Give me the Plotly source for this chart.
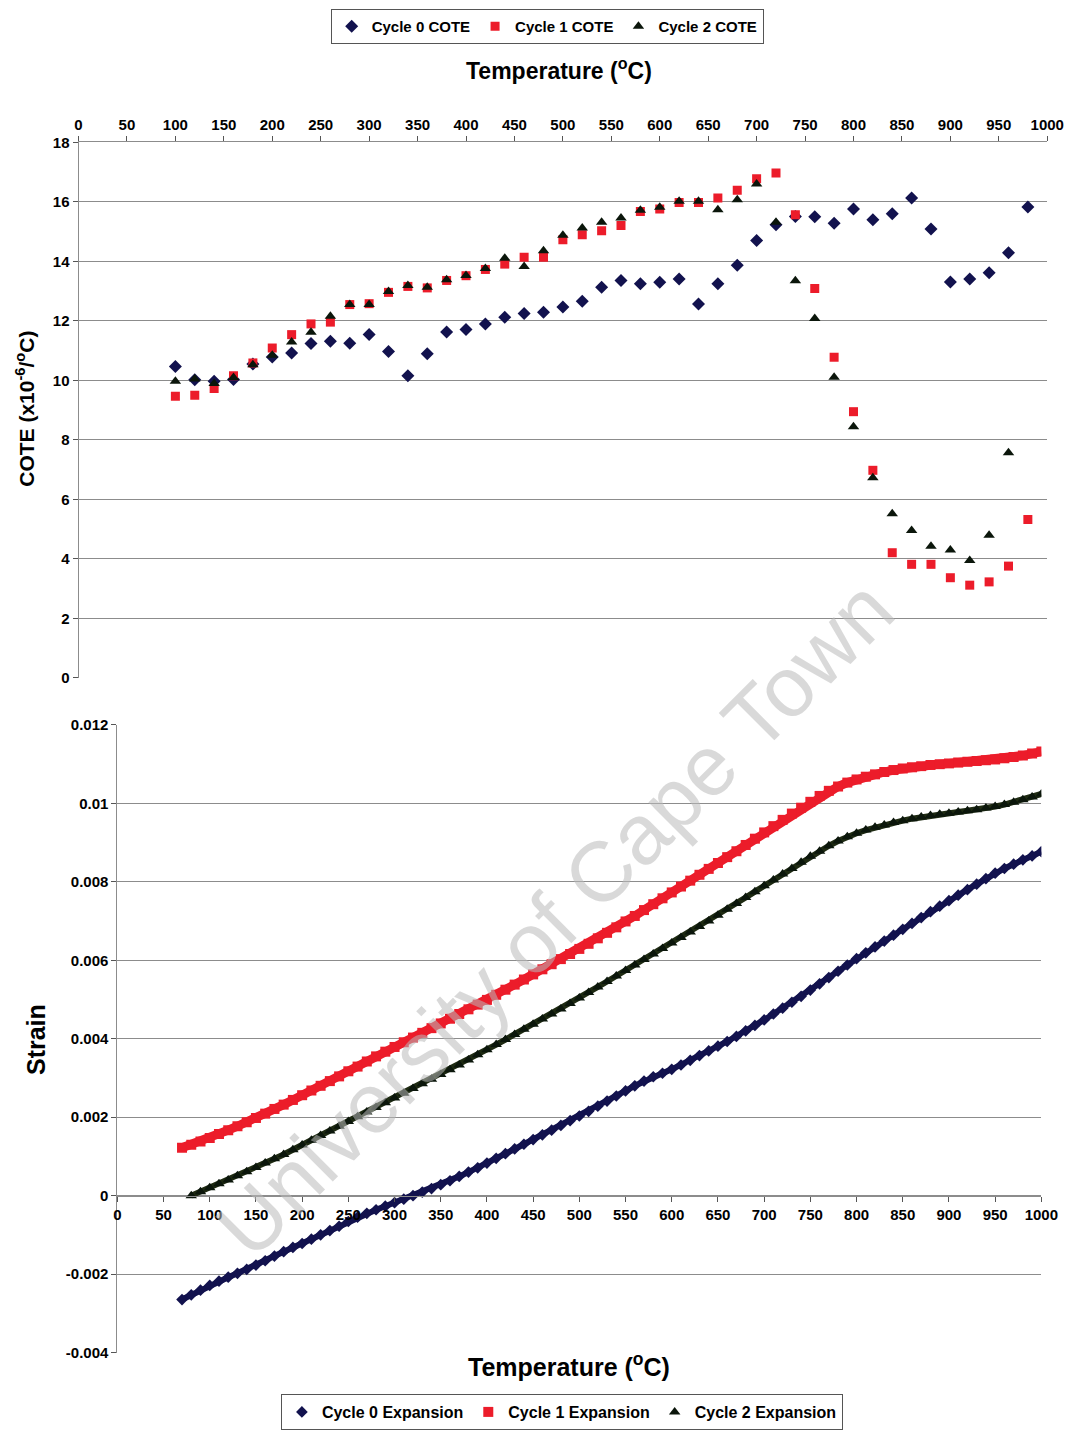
import plotly.graph_objects as go

# ---------------- COTE data (top panel) ----------------
cote_temp_c0 = [100, 120, 140, 160, 180, 200, 220, 240, 260, 280, 300, 320, 340, 360, 380,
                400, 420, 440, 460, 480, 500, 520, 540, 560, 580, 600, 620, 640, 660, 680,
                700, 720, 740, 760, 780, 800, 820, 840, 860, 880, 900, 920, 940, 960, 980]
cote_c0 = [10.47, 10.02, 9.97, 10.03, 10.55, 10.79, 10.92, 11.24, 11.32, 11.25, 11.54, 10.97,
           10.16, 10.90, 11.63, 11.71, 11.90, 12.12, 12.25, 12.29, 12.47, 12.66, 13.13, 13.36,
           13.25, 13.30, 13.41, 12.57, 13.25, 13.87, 14.70, 15.23, 15.51, 15.50, 15.28, 15.76,
           15.40, 15.60, 16.13, 15.09, 13.31, 13.41, 13.62, 14.29, 15.83]

cote_temp_c1 = [100, 120, 140, 160, 180, 200, 220, 240, 260, 280, 300, 320, 340, 360, 380,
                400, 420, 440, 460, 480, 500, 520, 540, 560, 580, 600, 620, 640, 660, 680,
                700, 720, 740, 760, 780, 800, 820, 840, 860, 880, 900, 920, 940, 960, 980]
cote_c1 = [9.47, 9.50, 9.73, 10.16, 10.59, 11.09, 11.54, 11.90, 11.96, 12.55, 12.58, 12.96,
           13.16, 13.11, 13.36, 13.52, 13.73, 13.91, 14.14, 14.14, 14.73, 14.90, 15.03, 15.21,
           15.68, 15.76, 15.98, 15.98, 16.13, 16.39, 16.78, 16.97, 15.57, 13.09, 10.78, 8.95,
           6.98, 4.21, 3.82, 3.82, 3.37, 3.12, 3.23, 3.76, 5.33]

cote_temp_c2 = [100, 120, 140, 160, 180, 200, 220, 240, 260, 280, 300, 320, 340, 360, 380,
                400, 420, 440, 460, 480, 500, 520, 540, 560, 580, 600, 620, 640, 660, 680,
                700, 720, 740, 760, 780, 800, 820, 840, 860, 880, 900, 920, 940, 960]
cote_c2 = [9.97, 10.05, 9.90, 10.10, 10.53, 10.85, 11.29, 11.62, 12.16, 12.55, 12.55, 12.99,
           13.19, 13.13, 13.38, 13.53, 13.76, 14.11, 13.83, 14.36, 14.88, 15.12, 15.32, 15.46,
           15.72, 15.82, 16.02, 16.02, 15.74, 16.07, 16.60, 15.32, 13.35, 12.08, 10.11, 8.44,
           6.73, 5.52, 4.96, 4.43, 4.30, 3.95, 4.80, 7.57]

# ---------------- Strain data (bottom panel) ----------------
strain_temp_c0 = [70, 80, 90, 100, 110, 120, 130, 140, 150, 160, 170, 180, 190, 200, 210, 220,
                  230, 240, 250, 260, 270, 280, 290, 300, 310, 320, 330, 340, 350, 360, 370,
                  380, 390, 400, 410, 420, 430, 440, 450, 460, 470, 480, 490, 500, 510, 520,
                  530, 540, 550, 560, 570, 580, 590, 600, 610, 620, 630, 640, 650, 660, 670,
                  680, 690, 700, 710, 720, 730, 740, 750, 760, 770, 780, 790, 800, 810, 820,
                  830, 840, 850, 860, 870, 880, 890, 900, 910, 920, 930, 940, 950, 960, 970,
                  980, 990, 1000]
strain_c0 = [-0.00265, -0.00253, -0.00241, -0.00229, -0.00218, -0.00208, -0.00198, -0.00188,
             -0.00177, -0.00166, -0.00154, -0.00143, -0.00132, -0.00122, -0.00111, -0.00100,
             -0.00089, -0.00078, -0.00066, -0.00055, -0.00045, -0.00036, -0.00027, -0.00018,
             -0.00009, 0.00000, 0.00009, 0.00018, 0.00028, 0.00038, 0.00049, 0.00060, 0.00071,
             0.00083, 0.00095, 0.00107, 0.00119, 0.00131, 0.00143, 0.00155, 0.00167, 0.00179,
             0.00191, 0.00203, 0.00215, 0.00228, 0.00241, 0.00254, 0.00267, 0.00280, 0.00292,
             0.00303, 0.00312, 0.00322, 0.00333, 0.00345, 0.00357, 0.00369, 0.00381, 0.00393,
             0.00406, 0.00420, 0.00434, 0.00448, 0.00463, 0.00478, 0.00493, 0.00508, 0.00524,
             0.00540, 0.00556, 0.00572, 0.00588, 0.00604, 0.00619, 0.00634, 0.00649, 0.00664,
             0.00679, 0.00694, 0.00709, 0.00724, 0.00738, 0.00752, 0.00766, 0.00780, 0.00794,
             0.00808, 0.00822, 0.00834, 0.00845, 0.00856, 0.00866, 0.00877]

strain_temp_c1 = [70, 80, 90, 100, 110, 120, 130, 140, 150, 160, 170, 180, 190, 200, 210, 220,
                  230, 240, 250, 260, 270, 280, 290, 300, 310, 320, 330, 340, 350, 360, 370,
                  380, 390, 400, 410, 420, 430, 440, 450, 460, 470, 480, 490, 500, 510, 520,
                  530, 540, 550, 560, 570, 580, 590, 600, 610, 620, 630, 640, 650, 660, 670,
                  680, 690, 700, 710, 720, 730, 740, 750, 760, 770, 780, 790, 800, 810, 820,
                  830, 840, 850, 860, 870, 880, 890, 900, 910, 920, 930, 940, 950, 960, 970,
                  980, 990, 1000]
strain_c1 = [0.00122, 0.00130, 0.00138, 0.00147, 0.00157, 0.00167, 0.00177, 0.00187, 0.00198,
             0.00209, 0.00221, 0.00232, 0.00244, 0.00256, 0.00268, 0.00280, 0.00292, 0.00304,
             0.00317, 0.00329, 0.00342, 0.00355, 0.00367, 0.00379, 0.00391, 0.00403, 0.00415,
             0.00427, 0.00439, 0.00451, 0.00463, 0.00475, 0.00487, 0.00499, 0.00512, 0.00525,
             0.00538, 0.00551, 0.00564, 0.00577, 0.00590, 0.00603, 0.00616, 0.00629, 0.00642,
             0.00656, 0.00670, 0.00684, 0.00699, 0.00713, 0.00728, 0.00743, 0.00758, 0.00773,
             0.00788, 0.00803, 0.00818, 0.00833, 0.00848, 0.00863, 0.00878, 0.00894, 0.00910,
             0.00926, 0.00942, 0.00958, 0.00974, 0.00989, 0.01004, 0.01019, 0.01032, 0.01043,
             0.01053, 0.01061, 0.01068, 0.01074, 0.01080, 0.01085, 0.01089, 0.01092, 0.01095,
             0.01098, 0.01100, 0.01102, 0.01104, 0.01106, 0.01108, 0.01110, 0.01112, 0.01115,
             0.01118, 0.01122, 0.01127, 0.01132]

strain_temp_c2 = [80, 90, 100, 110, 120, 130, 140, 150, 160, 170, 180, 190, 200, 210, 220,
                  230, 240, 250, 260, 270, 280, 290, 300, 310, 320, 330, 340, 350, 360, 370,
                  380, 390, 400, 410, 420, 430, 440, 450, 460, 470, 480, 490, 500, 510, 520,
                  530, 540, 550, 560, 570, 580, 590, 600, 610, 620, 630, 640, 650, 660, 670,
                  680, 690, 700, 710, 720, 730, 740, 750, 760, 770, 780, 790, 800, 810, 820,
                  830, 840, 850, 860, 870, 880, 890, 900, 910, 920, 930, 940, 950, 960, 970,
                  980, 990, 1000]
strain_c2 = [0.00000, 0.00010, 0.00020, 0.00030, 0.00040, 0.00051, 0.00061, 0.00072, 0.00083,
             0.00094, 0.00105, 0.00117, 0.00129, 0.00141, 0.00153, 0.00165, 0.00177, 0.00189,
             0.00201, 0.00213, 0.00225, 0.00237, 0.00249, 0.00261, 0.00273, 0.00285, 0.00297,
             0.00309, 0.00321, 0.00333, 0.00346, 0.00359, 0.00372, 0.00385, 0.00398, 0.00411,
             0.00424, 0.00437, 0.00450, 0.00463, 0.00476, 0.00490, 0.00504, 0.00518, 0.00532,
             0.00546, 0.00560, 0.00574, 0.00588, 0.00602, 0.00616, 0.00630, 0.00644, 0.00658,
             0.00672, 0.00686, 0.00700, 0.00715, 0.00730, 0.00745, 0.00760, 0.00775, 0.00790,
             0.00805, 0.00820, 0.00834, 0.00850, 0.00865, 0.00878, 0.00892, 0.00904, 0.00915,
             0.00924, 0.00932, 0.00939, 0.00945, 0.00951, 0.00956, 0.00961, 0.00965, 0.00969,
             0.00972, 0.00975, 0.00978, 0.00981, 0.00984, 0.00988, 0.00992, 0.00997, 0.01003,
             0.01009, 0.01016, 0.01024]

# ---------------- Axis ticks ----------------
temp_ticks = list(range(0, 1001, 50))
cote_ticks = list(range(0, 19, 2))
strain_tickvals = [0.012, 0.01, 0.008, 0.006, 0.004, 0.002, 0, -0.002, -0.004]
strain_ticktext = ["0.012", "0.01", "0.008", "0.006", "0.004", "0.002", "0", "-0.002", "-0.004"]

# ---------------- Styling ----------------
W, H = 1076, 1438
FONT = "Liberation Sans Narrow, Arial Narrow, Liberation Sans, Arial, sans-serif"
NAVY = "#12124e"
RED = "#ec1c2a"
BLACK = "#0b160b"
BAND2 = "#1e2a12"
GRID = "#8c8c8c"


def fx(px):
    """pixel column -> paper fraction"""
    return px / W


def fy(px):
    """pixel row (from top) -> paper fraction"""
    return 1 - px / H


# panel rectangles in pixels
top_x = [fx(76), fx(1064)]
top_y = [fy(677), fy(135)]
bot_x = [fx(115.6), fx(1058)]
bot_y = [fy(1359.6), fy(724.5)]
strain_range = [-0.004, 0.012]
# the temperature axis of the lower panel crosses at zero strain
zero_pos = bot_y[0] + (0 - strain_range[0]) / (strain_range[1] - strain_range[0]) * (bot_y[1] - bot_y[0])

fig = go.Figure()

# top panel: COTE scatter
fig.add_trace(go.Scatter(x=cote_temp_c0, y=cote_c0, mode="markers", name="Cycle 0 COTE",
                         marker=dict(symbol="diamond", size=10, color=NAVY),
                         xaxis="x", yaxis="y", legend="legend"))
fig.add_trace(go.Scatter(x=cote_temp_c1, y=cote_c1, mode="markers", name="Cycle 1 COTE",
                         marker=dict(symbol="square", size=9, color=RED),
                         xaxis="x", yaxis="y", legend="legend"))
fig.add_trace(go.Scatter(x=cote_temp_c2, y=cote_c2, mode="markers", name="Cycle 2 COTE",
                         marker=dict(symbol="triangle-up", size=10, color=BLACK),
                         xaxis="x", yaxis="y", legend="legend"))

# bottom panel: strain curves (thick band + dense markers)
series = [
    (strain_temp_c0, strain_c0, "Cycle 0 Expansion", NAVY, NAVY, "diamond", 9, 6),
    (strain_temp_c1, strain_c1, "Cycle 1 Expansion", RED, RED, "square", 10, 9),
    (strain_temp_c2, strain_c2, "Cycle 2 Expansion", BAND2, BLACK, "triangle-up", 10, 6),
]
for xs, ys, name, lcol, mcol, sym, msize, lw in series:
    fig.add_trace(go.Scatter(x=xs, y=ys, mode="lines", line=dict(color=lcol, width=lw),
                             showlegend=False, hoverinfo="skip",
                             xaxis="x2", yaxis="y2"))
    fig.add_trace(go.Scatter(x=xs, y=ys, mode="markers", name=name,
                             marker=dict(symbol=sym, size=msize, color=mcol),
                             xaxis="x2", yaxis="y2", legend="legend2"))

tickfont = dict(family=FONT, size=15, color="black", weight="bold")

fig.update_layout(
    width=W, height=H,
    margin=dict(l=0, r=0, t=0, b=0),
    paper_bgcolor="white", plot_bgcolor="white",
    font=dict(family=FONT, color="black"),
    xaxis=dict(domain=top_x, anchor="y", side="top", range=[0, 1000],
               tickvals=temp_ticks, showline=True, linecolor=GRID, linewidth=1,
               ticks="outside", ticklen=5, tickcolor="#555", showgrid=False,
               zeroline=False, tickfont=tickfont),
    yaxis=dict(domain=top_y, anchor="x", range=[0, 18], tickvals=cote_ticks,
               showline=True, linecolor=GRID, linewidth=1, ticks="outside", ticklen=5,
               tickcolor="#555", showgrid=True, gridcolor=GRID, gridwidth=1,
               zeroline=False, tickfont=tickfont),
    xaxis2=dict(domain=bot_x, anchor="free", position=zero_pos, range=[0, 1000],
                tickvals=temp_ticks, showline=True, linecolor=GRID, linewidth=1,
                ticks="outside", ticklen=5, tickcolor="#555", showgrid=False,
                zeroline=False, tickfont=tickfont),
    yaxis2=dict(domain=bot_y, anchor="x2", range=strain_range, tickvals=strain_tickvals,
                ticktext=strain_ticktext, showline=True, linecolor=GRID, linewidth=1,
                ticks="outside", ticklen=5, tickcolor="#555", showgrid=True,
                gridcolor=GRID, gridwidth=1, zeroline=False, tickfont=tickfont),
    legend=dict(orientation="h", x=fx(554), y=1, xanchor="center", yanchor="top",
                bordercolor="#555", borderwidth=1, bgcolor="white",
                font=dict(family=FONT, size=15, color="black", weight="bold"),
                itemwidth=30, tracegroupgap=0),
    legend2=dict(orientation="h", x=fx(569), y=0, xanchor="center", yanchor="bottom",
                 bordercolor="#555", borderwidth=1, bgcolor="white",
                 font=dict(family=FONT, size=16, color="black", weight="bold"),
                 itemwidth=30, tracegroupgap=0),
    showlegend=True,
    annotations=[
        dict(text="Temperature (<sup>o</sup>C)", x=fx(566), y=fy(61), xref="paper", yref="paper",
             showarrow=False, xanchor="center", yanchor="middle",
             font=dict(family=FONT, size=23, color="black", weight="bold")),
        dict(text="Temperature (<sup>o</sup>C)", x=fx(576), y=fy(1372), xref="paper", yref="paper",
             showarrow=False, xanchor="center", yanchor="middle",
             font=dict(family=FONT, size=25, color="black", weight="bold")),
        dict(text="COTE (x10<sup>-6</sup>/<sup>o</sup>C)", x=fx(22), y=fy(405), xref="paper",
             yref="paper", showarrow=False, textangle=-90, xanchor="center", yanchor="middle",
             font=dict(family=FONT, size=21, color="black", weight="bold")),
        dict(text="Strain", x=fx(32), y=fy(1043), xref="paper", yref="paper",
             showarrow=False, textangle=-90, xanchor="center", yanchor="middle",
             font=dict(family=FONT, size=25, color="black", weight="bold")),
        dict(text="University of Cape Town", x=fx(561), y=fy(920), xref="paper", yref="paper",
             showarrow=False, textangle=-45, xanchor="center", yanchor="middle",
             font=dict(family="Liberation Sans, Arial, sans-serif", size=85,
                       color="rgba(185,185,185,0.55)")),
    ],
)

fig.write_html("out.html")
